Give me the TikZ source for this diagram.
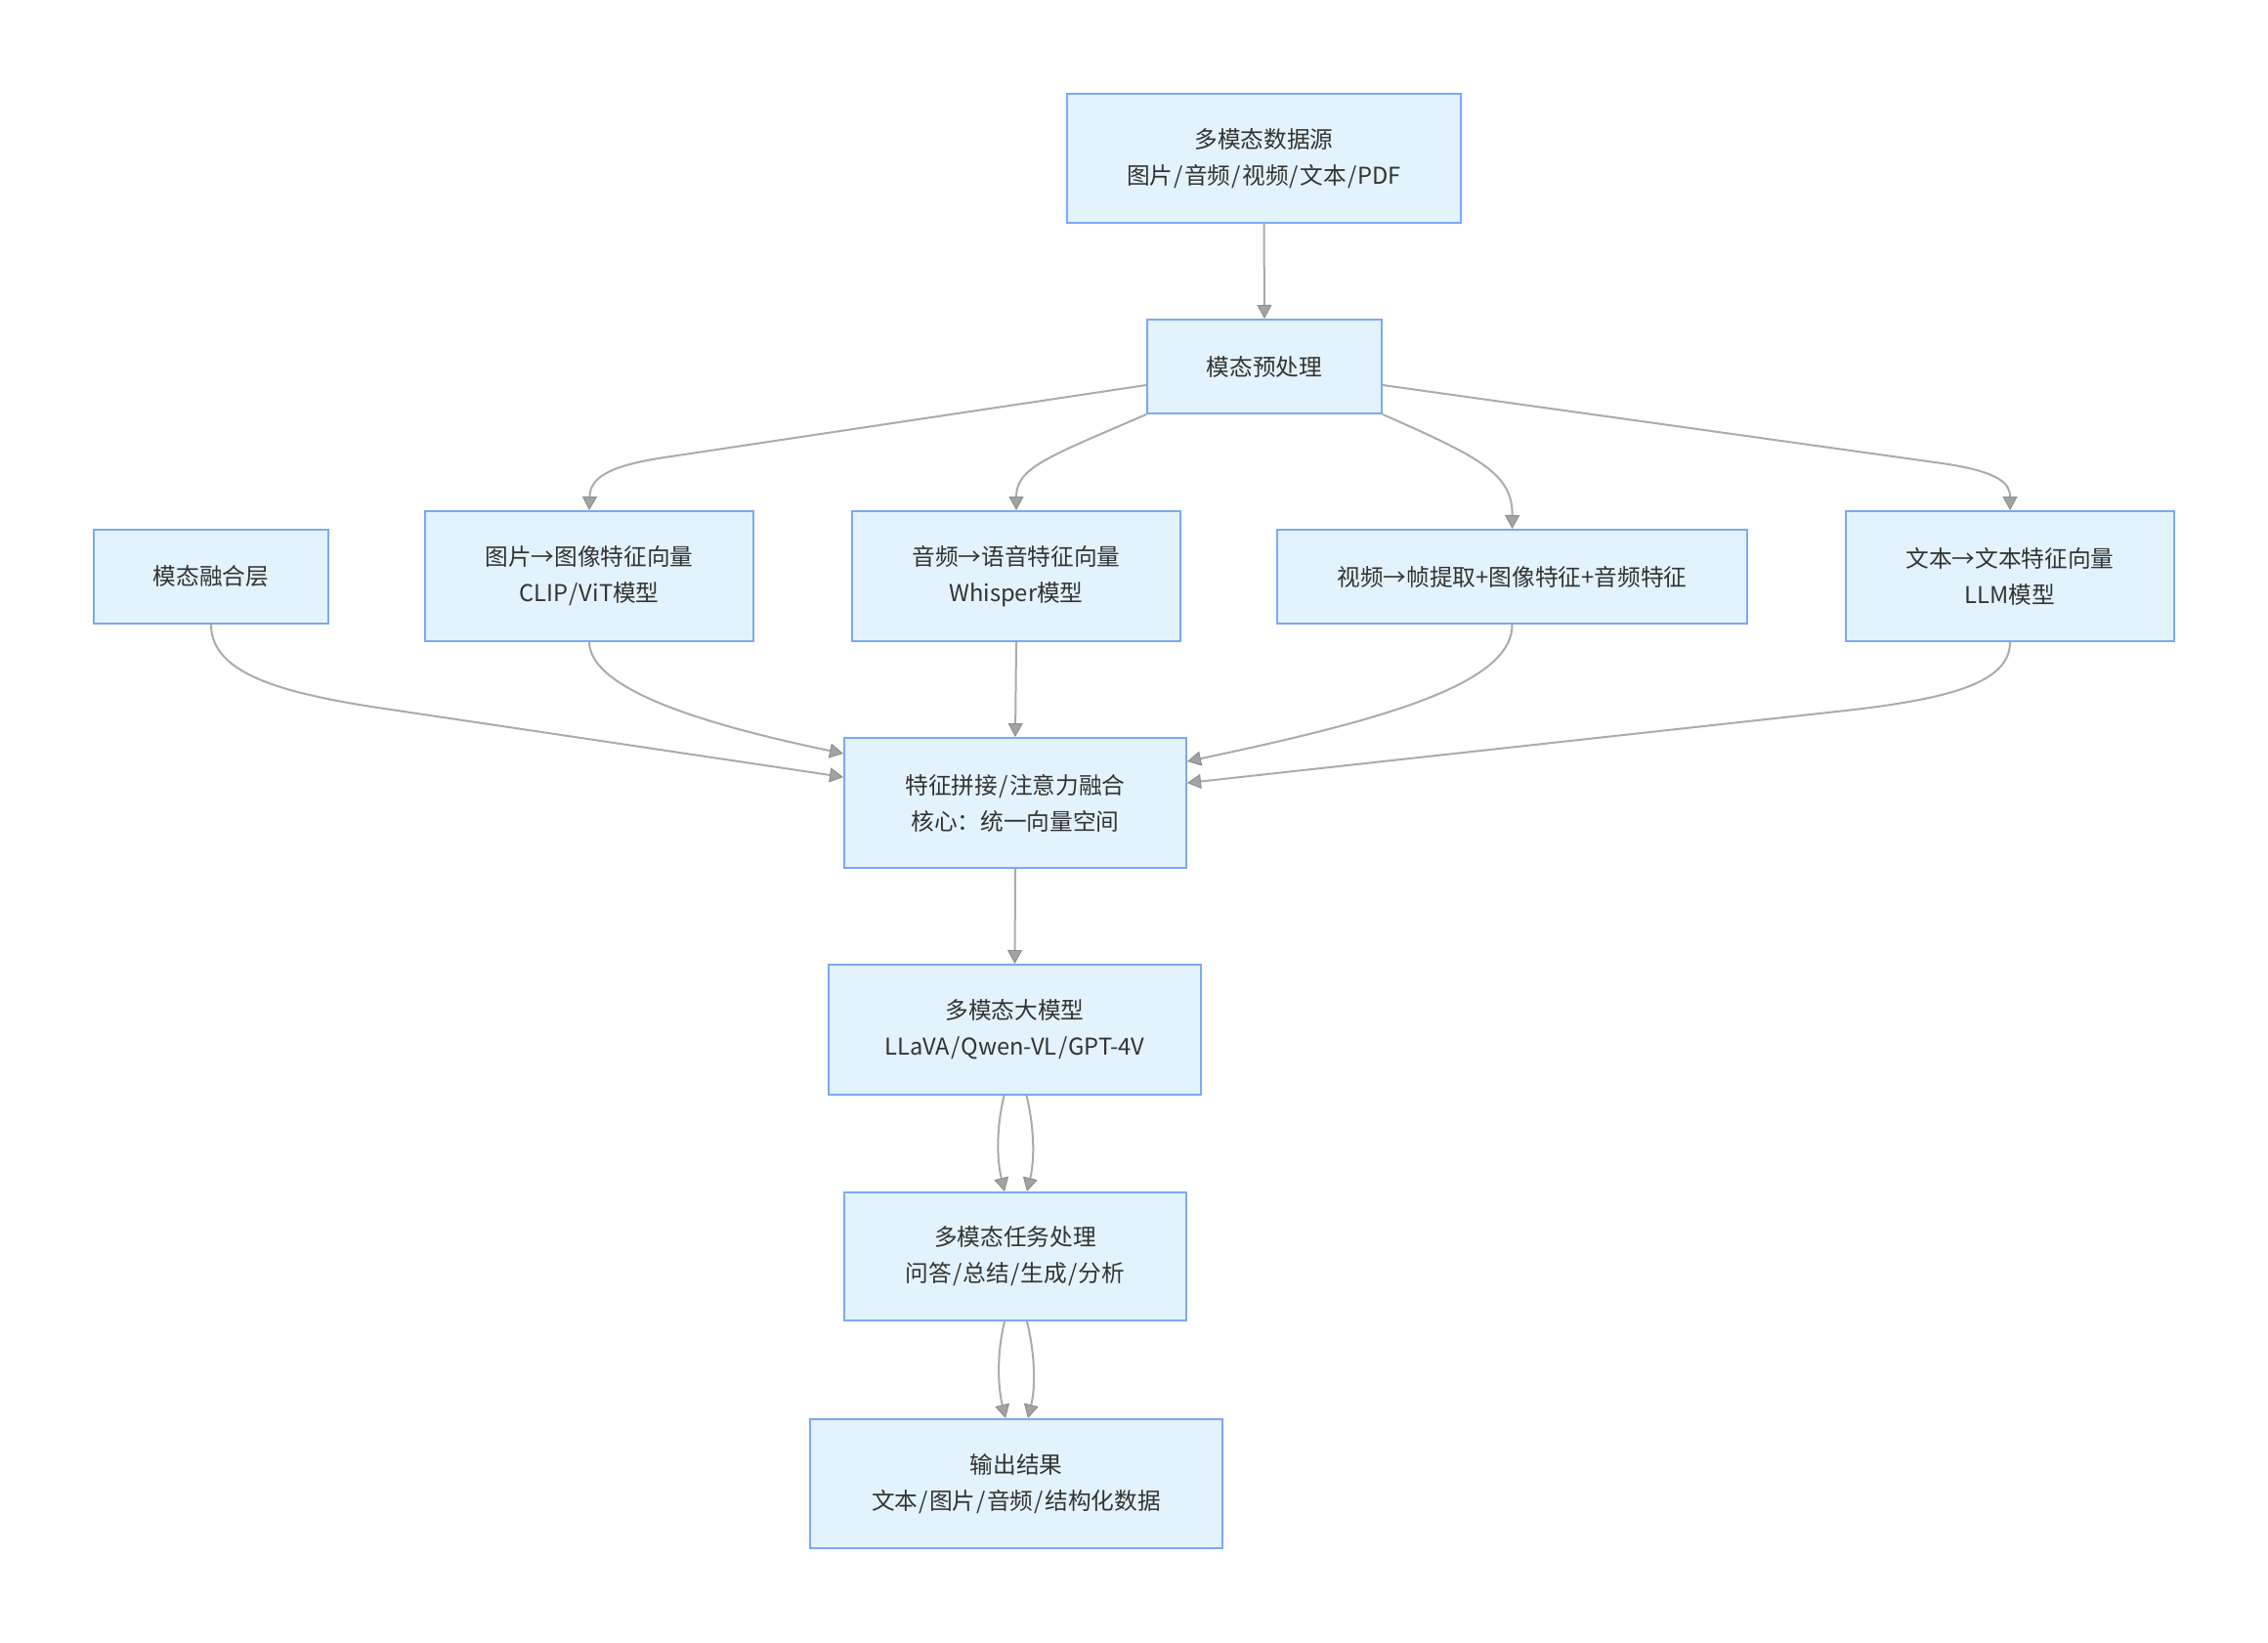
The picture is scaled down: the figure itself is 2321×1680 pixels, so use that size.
\documentclass[tikz,border=0pt]{standalone}
\usepackage{fontspec}
\setmainfont{Noto Sans CJK SC}
\usetikzlibrary{arrows.meta,calc}
\definecolor{boxfill}{HTML}{E3F3FD}
\definecolor{boxline}{HTML}{7CA8F6}
\definecolor{edgecol}{HTML}{ABABAB}
\definecolor{tipfill}{HTML}{A3A3A3}
\definecolor{tipline}{HTML}{8E8E8E}
\definecolor{txt}{HTML}{333333}
\newcommand{\sls}{\kern0.6pt/\kern0.6pt}
\begin{document}
\begin{tikzpicture}[x=0.5pt,y=-0.5pt,
  box/.style={draw=boxline,fill=boxfill,line width=1pt,align=center,inner sep=0pt,
    text=txt,font=\fontsize{11.85pt}{18.5pt}\selectfont},
  link/.style={draw=edgecol,line width=1pt,
    -{Triangle[length=7pt,width=7.5pt,color=tipline,fill=tipfill,line width=0.5pt]}}
]
\fill[white] (0,0) rectangle (2321,1680);
\useasboundingbox (0,0) rectangle (2321,1680);

\node[box,minimum width=201.5pt,minimum height=66pt] (src) at (1293.5,162) {多模态数据源\\图片\sls 音频\sls 视频\sls 文本\sls PDF};
\node[box,minimum width=120pt,minimum height=48pt] (pre) at (1294,375) {模态预处理};
\node[box,minimum width=120pt,minimum height=48pt] (fus) at (216,590) {模态融合层};
\node[box,minimum width=168pt,minimum height=66.5pt] (img) at (603,589.5) {图片→图像特征向量\\CLIP\sls ViT模型};
\node[box,minimum width=168pt,minimum height=66.5pt] (aud) at (1040,589.5) {音频→语音特征向量\\Whisper模型};
\node[box,minimum width=240.5pt,minimum height=48pt] (vid) at (1547.5,590) {视频→帧提取+图像特征+音频特征};
\node[box,minimum width=168pt,minimum height=66.5pt] (txtn) at (2057,589.5) {文本→文本特征向量\\LLM模型};
\node[box,minimum width=175pt,minimum height=66.5pt] (feat) at (1039,821.5) {特征拼接\sls 注意力融合\\核心：统一向量空间};
\node[box,minimum width=190.5pt,minimum height=66.5pt] (llm) at (1038.5,1053.5) {多模态大模型\\LLaVA\sls Qwen-VL\sls GPT-4V};
\node[box,minimum width=175pt,minimum height=65.5pt] (task) at (1039,1285.5) {多模态任务处理\\问答\sls 总结\sls 生成\sls 分析};
\node[box,minimum width=211pt,minimum height=66pt] (out) at (1040,1518) {输出结果\\文本\sls 图片\sls 音频\sls 结构化数据};

\draw[link] (src.south) -- (pre.north);
\draw[link] ([yshift=-9.5pt]pre.west) -- (680,468) .. controls (620,477) and (604,490) .. (img.north);
\draw[link] (pre.south west) .. controls (1074,467) and (1040,478) .. (aud.north);
\draw[link] (pre.south east) .. controls (1515,468) and (1548,485) .. (vid.north);
\draw[link] ([yshift=-9.5pt]pre.east) -- (1980,473) .. controls (2040,481) and (2057,492) .. (txtn.north);

\draw[link] (fus.south) .. controls (216,690) and (290,710) .. (400,726) -- ([yshift=13.25pt]feat.west);
\draw[link] (img.south) .. controls (604,710) and (744,746) .. ([yshift=25.25pt]feat.west);
\draw[link] (aud.south) -- (feat.north);
\draw[link] (vid.south) .. controls (1548,700) and (1414,737) .. ([yshift=21.25pt]feat.east);
\draw[link] (txtn.south) .. controls (2057,700) and (1990,716) .. (1880,728) -- ([yshift=10.25pt]feat.east);

\draw[link] (feat.south) -- (llm.north);
\draw[link] ([xshift=-5.5pt]llm.south) .. controls +(-8,33) and +(-8,-33) .. ([xshift=-5.5pt]task.north);
\draw[link] ([xshift=6pt]llm.south) .. controls +(8,33) and +(8,-33) .. ([xshift=6pt]task.north);
\draw[link] ([xshift=-5.5pt]task.south) .. controls +(-8,33) and +(-8,-33) .. ([xshift=-5.5pt]out.north);
\draw[link] ([xshift=6pt]task.south) .. controls +(8,33) and +(8,-33) .. ([xshift=6pt]out.north);
\end{tikzpicture}
\end{document}
